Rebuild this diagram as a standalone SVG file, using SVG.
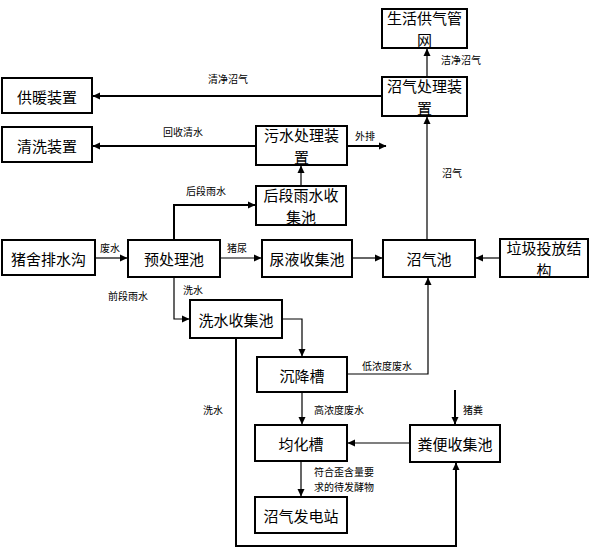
<svg xmlns="http://www.w3.org/2000/svg" width="595" height="551" viewBox="0 0 595 551">
<style>
.box{fill:#fff;stroke:#000;stroke-width:2}
.t{font-family:"Noto Sans CJK SC","Noto Sans",sans-serif;font-size:15px;fill:#000;text-anchor:middle;dominant-baseline:central}
.l{font-family:"Noto Sans CJK SC","Noto Sans",sans-serif;font-size:10px;fill:#000;text-anchor:middle;dominant-baseline:central}
.c{fill:none;stroke:#000;stroke-width:1.2;marker-end:url(#ah)}
.k{stroke-width:2}
</style>
<defs>
<marker id="ah" markerUnits="userSpaceOnUse" markerWidth="8" markerHeight="8" viewBox="0 0 8 8" refX="7" refY="4" orient="auto">
<path d="M0,0.5 L7.5,4 L0,7.5 Z" fill="#000"/>
</marker>
</defs>
<rect width="595" height="551" fill="#fff"/>
<g id="connectors">
<path class="c" d="M427,77 V49"/>
<path class="c k" d="M382,96 H93"/>
<path class="c k" d="M256,146 H93"/>
<path class="c k" d="M347,146 H386"/>
<path class="c" d="M301,186 V166"/>
<path class="c k" d="M174,240 V205 H255"/>
<path class="c" d="M95,258 H127"/>
<path class="c" d="M220,258 H261"/>
<path class="c" d="M352,258 H382"/>
<path class="c" d="M500,258 H476"/>
<path class="c" d="M427,240 V117"/>
<path class="c" d="M174,277 V319 H189"/>
<path class="c" d="M282,319 H302 V356"/>
<path class="c" d="M347,374 H428 V278"/>
<path class="c" d="M302,392 V424"/>
<path class="c" d="M410,443 H348"/>
<path class="c k" d="M455,390 V424"/>
<path class="c" d="M301,461 V496"/>
<path class="c k" d="M236,338 V546 H456 V463"/>
<text class="l" x="461" y="59">洁净沼气</text>
<text class="l" x="228" y="78">清净沼气</text>
<text class="l" x="183" y="131">回收清水</text>
<text class="l" x="365" y="135">外排</text>
<text class="l" x="206" y="190">后段雨水</text>
<text class="l" x="110" y="247">废水</text>
<text class="l" x="237" y="247">猪尿</text>
<text class="l" x="452" y="172">沼气</text>
<text class="l" x="193" y="289">洗水</text>
<text class="l" x="128" y="295">前段雨水</text>
<text class="l" x="387" y="365">低浓度废水</text>
<text class="l" x="339" y="409">高浓度废水</text>
<text class="l" x="473" y="409">猪粪</text>
<text class="l" x="213" y="409">洗水</text>
<text class="l" x="344" y="471">符合歪含量要</text>
<text class="l" x="344" y="486">求的待发酵物</text>
</g>
<g id="n1"><rect class="box" x="382" y="9" width="85" height="39"/><text class="t" x="424.5" y="17.5">生活供气管</text><text class="t" x="424.5" y="39.5">网</text></g>
<g id="n2"><rect class="box" x="382" y="77" width="85" height="39"/><text class="t" x="424.5" y="85.5">沼气处理装</text><text class="t" x="424.5" y="107.5">置</text></g>
<g id="n3"><rect class="box" x="2" y="78" width="90" height="35"/><text class="t" x="47" y="96">供暖装置</text></g>
<g id="n4"><rect class="box" x="2" y="127" width="90" height="35"/><text class="t" x="47" y="145">清洗装置</text></g>
<g id="n5"><rect class="box" x="256" y="126" width="91" height="39"/><text class="t" x="301.5" y="134.5">污水处理装</text><text class="t" x="301.5" y="156.5">置</text></g>
<g id="n6"><rect class="box" x="256" y="186" width="90" height="39"/><text class="t" x="301" y="194.5">后段雨水收</text><text class="t" x="301" y="216.5">集池</text></g>
<g id="n7"><rect class="box" x="2" y="240" width="93" height="35"/><text class="t" x="48.5" y="258">猪舍排水沟</text></g>
<g id="n8"><rect class="box" x="128" y="240" width="92" height="37"/><text class="t" x="174" y="258">预处理池</text></g>
<g id="n9"><rect class="box" x="262" y="240" width="90" height="37"/><text class="t" x="307" y="258">尿液收集池</text></g>
<g id="n10"><rect class="box" x="383" y="240" width="92" height="37"/><text class="t" x="429" y="258">沼气池</text></g>
<g id="n11"><rect class="box" x="500" y="239" width="88" height="38"/><text class="t" x="544" y="247">垃圾投放结</text><text class="t" x="544" y="269">构</text></g>
<g id="n12"><rect class="box" x="190" y="300" width="92" height="38"/><text class="t" x="236" y="319">洗水收集池</text></g>
<g id="n13"><rect class="box" x="257" y="357" width="90" height="35"/><text class="t" x="302" y="375">沉降槽</text></g>
<g id="n14"><rect class="box" x="255" y="425" width="92" height="36"/><text class="t" x="301" y="443">均化槽</text></g>
<g id="n15"><rect class="box" x="410" y="425" width="90" height="37"/><text class="t" x="455" y="443">粪便收集池</text></g>
<g id="n16"><rect class="box" x="255" y="497" width="92" height="36"/><text class="t" x="301" y="515">沼气发电站</text></g>
</svg>
